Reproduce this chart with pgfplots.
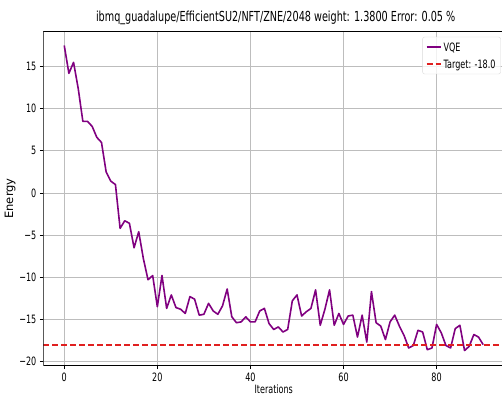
\documentclass[border=0pt]{standalone}
\usepackage{fontspec}
\setmainfont{DejaVu Sans}[FakeStretch=0.70]
\newfontfamily\ylabfont{DejaVu Sans}
\usepackage{pgfplots}
\pgfplotsset{compat=1.18}
\definecolor{vqe}{HTML}{800080}
\definecolor{tgt}{HTML}{E02020}
\definecolor{gridc}{HTML}{BDBDBD}
\newcommand{\lstrut}{\rule[-4.5pt]{0pt}{16pt}}
\pgfplotstableread{
it E
0 17.5
1 14.2
2 15.5
3 12.4
4 8.5
5 8.5
6 7.9
7 6.6
8 6.0
9 2.5
10 1.4
11 1.0
12 -4.2
13 -3.3
14 -3.6
15 -6.5
16 -4.6
17 -7.8
18 -10.3
19 -9.8
20 -13.5
21 -9.8
22 -13.7
23 -12.1
24 -13.6
25 -13.8
26 -14.3
27 -12.3
28 -12.6
29 -14.5
30 -14.4
31 -13.1
32 -14.0
33 -14.4
34 -13.4
35 -11.4
36 -14.7
37 -15.4
38 -15.3
39 -14.7
40 -15.3
41 -15.3
42 -14.0
43 -13.7
44 -15.5
45 -16.2
46 -15.9
47 -16.5
48 -16.2
49 -12.8
50 -12.1
51 -14.6
52 -14.1
53 -13.7
54 -11.5
55 -15.7
56 -13.8
57 -11.5
58 -15.7
59 -14.3
60 -15.6
61 -14.6
62 -14.5
63 -17.1
64 -14.5
65 -17.7
66 -11.7
67 -15.4
68 -15.8
69 -17.4
70 -15.3
71 -14.5
72 -15.8
73 -16.9
74 -18.4
75 -18.1
76 -16.3
77 -16.5
78 -18.6
79 -18.4
80 -15.6
81 -16.6
82 -18.1
83 -18.4
84 -16.1
85 -15.7
86 -18.7
87 -18.2
88 -16.8
89 -17.1
90 -18.0
}\vqedata
\begin{document}
\begin{tikzpicture}
\begin{axis}[
  scale only axis,
  width=460.8pt, height=334.5pt,
  xmin=-4.5, xmax=94.5,
  ymin=-20.5, ymax=19.2,
  xtick={0,20,40,60,80},
  ytick={-20,-15,-10,-5,0,5,10,15},
  yticklabels={−20,−15,−10,−5,0,5,10,15},
  /pgf/number format/assume math mode=true,
  tick label style={font=\fontsize{11.5}{13}\selectfont},
  tick align=outside,
  major tick length=3.5pt,
  xtick pos=bottom, ytick pos=left,
  tick style={black, line width=0.8pt},
  grid=major,
  grid style={gridc, line width=0.8pt},
  axis line style={draw=none},
  title={ibmq\_guadalupe/EfficientSU2/NFT/ZNE/2048 weight: 1.3800 Error: 0.05 \%},
  title style={font=\fontsize{13.8}{16}\selectfont, yshift=-3pt, xshift=2pt},
  xlabel={Iterations},
  xlabel style={font=\fontsize{11.5}{13}\selectfont, yshift=4pt},
  ylabel={Energy},
  ylabel style={font=\ylabfont\fontsize{11.5}{13}\selectfont, yshift=-3pt},
  legend style={at={(1,1)}, anchor=north east, xshift=-3.4pt, yshift=-5.6pt,
    draw=black!15, rounded corners=2pt, fill=white, fill opacity=0.8, text opacity=1,
    font=\fontsize{11.5}{13}\selectfont, inner xsep=3pt, inner ysep=1.5pt},
  legend cell align=left,
  legend image code/.code={\draw[#1] (0pt,0pt) -- (14pt,0pt);},
]
\addplot[vqe, line width=1.6pt, line join=round] table[x=it, y=E] {\vqedata};
\addlegendentry{\lstrut VQE}
\addplot[tgt, line width=2pt, dash pattern=on 6pt off 3pt] coordinates {(-4.5,-18) (94.5,-18)};
\addlegendentry{\lstrut Target: -18.0}
\draw[black, line width=0.8pt] (rel axis cs:0,1) -- (rel axis cs:0,0) -- (rel axis cs:1,0);
\draw[black, line width=0.8pt] (rel axis cs:0,1) -- (rel axis cs:1,1);
\coordinate (bl) at (rel axis cs:0,0);
\end{axis}
\pgfresetboundingbox
\path[use as bounding box] (bl) ++(-43.3pt,-35.3pt) rectangle ++(502pt,401pt);
\end{tikzpicture}
\end{document}
